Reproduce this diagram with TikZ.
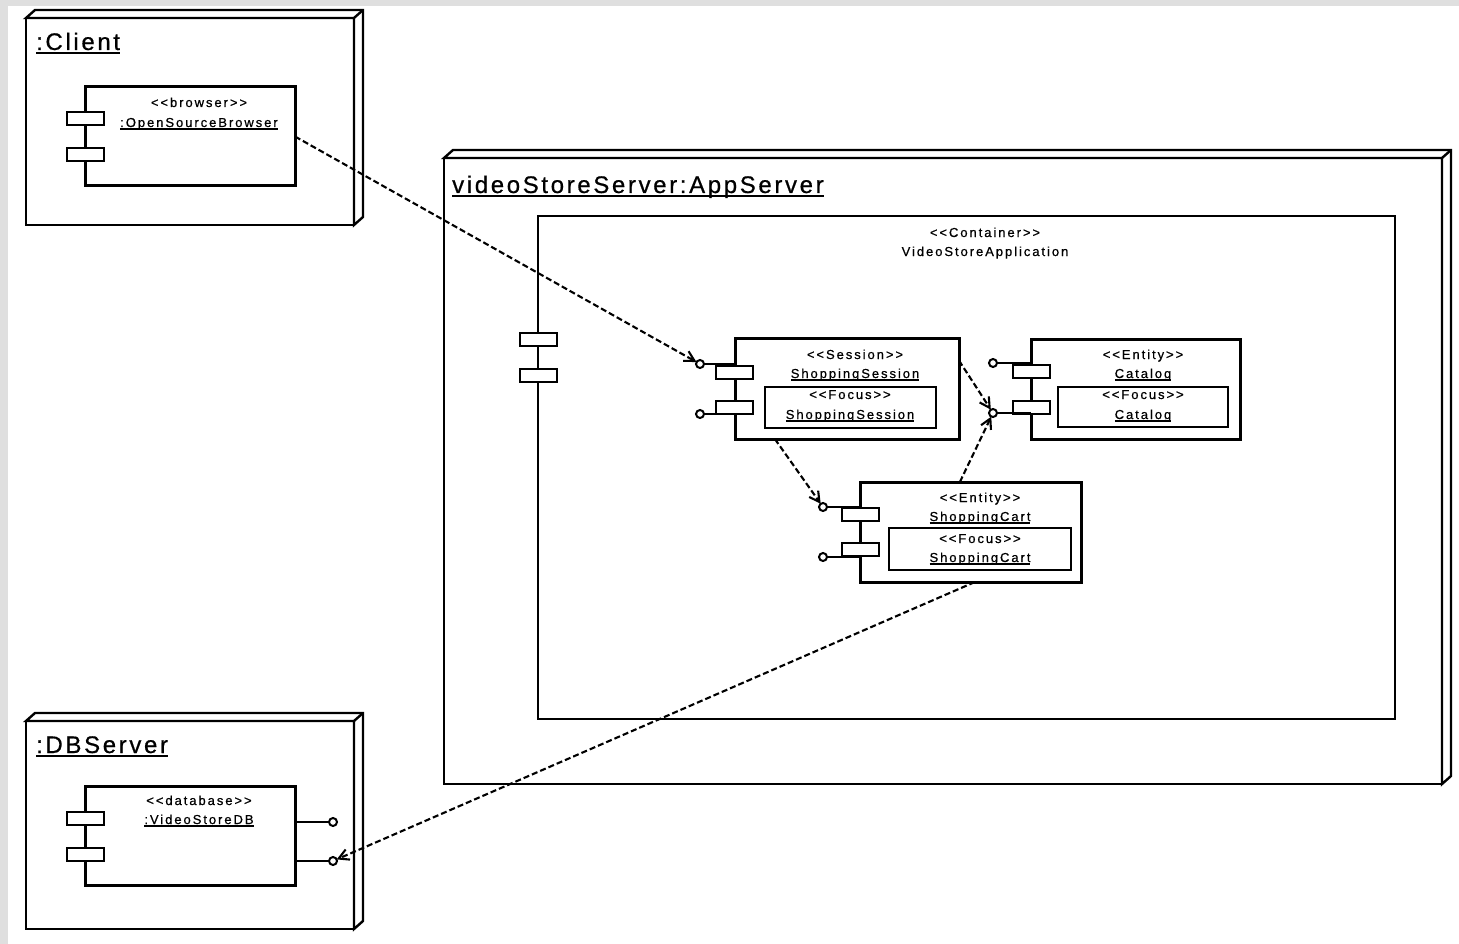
\documentclass[tikz,border=0pt]{standalone}
\usepackage{fontspec}
\usetikzlibrary{arrows.meta,calc}
\newfontfamily\smallfam[LetterSpace=15,Ligatures=TeXOff,FakeBold=0.6]{Liberation Sans}
\newfontfamily\bigfam[LetterSpace=11,Ligatures=TeXOff,FakeBold=0.6]{Liberation Sans}
% underlined names
\newcommand{\ulsmall}[1]{\setbox0=\hbox{#1}\rlap{\rule[-2.9pt]{\wd0}{1.8pt}}\box0}
\newcommand{\ulbig}[1]{\setbox0=\hbox{#1}\rlap{\rule[-4.4pt]{\wd0}{2.8pt}}\box0}
\tikzset{
  frame/.style={draw, line width=2.4pt, fill=white, anchor=north west, inner sep=0pt, outer sep=0pt},
  body/.style={draw, line width=3pt, fill=white, anchor=north west, inner sep=0pt, outer sep=0pt},
  focusbox/.style={draw, line width=1.8pt, anchor=north west, inner sep=0pt, outer sep=0pt},
  port/.style={draw, line width=2pt, fill=white, minimum width=37pt, minimum height=13pt, inner sep=0pt, outer sep=0pt},
  lolli/.style={circle, draw, line width=2pt, fill=white, minimum size=8pt, inner sep=0pt, outer sep=0pt},
  stem/.style={line width=2pt},
  stereo/.style={font=\smallfam\fontsize{13}{15}\selectfont, anchor=base, inner sep=0pt},
  title/.style={font=\bigfam\fontsize{24}{28}\selectfont, anchor=base west, inner sep=0pt},
  dep/.style={line width=2.1pt, dash pattern=on 6pt off 3pt, -{Straight Barb[length=10pt,width=11pt,line width=2.1pt]}},
  depth3d/.style={line width=2.4pt, line join=miter, fill=white}
}
% top and right faces of a 3D deployment node
\newcommand{\depthfaces}[1]{%
  \filldraw[depth3d] (#1.north west) -- ++(9,-8) -- ($(#1.north east)+(9,-8)$) -- ($(#1.south east)+(9,-8)$) -- (#1.south east) -- (#1.north east) -- cycle;
  \draw[depth3d] (#1.north east) -- ++(9,-8);
}
\begin{document}
\begin{tikzpicture}[x=1pt, y=-1pt]
\useasboundingbox (0,0) rectangle (1459,944);
\fill[gray!25] (0,0) rectangle (1459,944);
\fill[white] (8,6) rectangle (1459,944);

% ---------- :Client ----------
\node[frame, minimum width=328pt, minimum height=207pt] (client) at (26,18) {};
\depthfaces{client}
\node[title] (clientlbl) at (36,50) {\ulbig{:Client}};
\node[body, minimum width=210pt, minimum height=99pt] (browser) at (85,87) {};
\node[port] (bp1) at (85,118.5) {};
\node[port] (bp2) at (85,155) {};
\node[stereo] (browserst) at (199,107) {<<browser>>};
\node[stereo] (browsernm) at (199,127) {\ulsmall{:OpenSourceBrowser}};

% ---------- videoStoreServer:AppServer ----------
\node[frame, minimum width=998pt, minimum height=626pt] (app) at (444,158) {};
\depthfaces{app}
\node[title] (applbl) at (452,193) {\ulbig{videoStoreServer:AppServer}};

% container
\node[frame, minimum width=857pt, minimum height=503pt] (cont) at (538,216) {};
\node[port] (cp1) at (538,339.5) {};
\node[port] (cp2) at (538,375) {};
\node[stereo] (contst) at (985,237) {<<Container>>};
\node[stereo] (contnm) at (985,256) {VideoStoreApplication};

% ShoppingSession
\node[body, minimum width=224pt, minimum height=101pt] (session) at (735,338) {};
\node[port] (sp1) at (734.5,372.5) {};
\node[port] (sp2) at (734.5,407.5) {};
\node[lolli] (s1) at (700,364) {};
\node[lolli] (s2) at (700,414) {};
\draw[stem] (s1) -- (s1 -| session.west);
\draw[stem] (s2) -- (s2 -| session.west);
\node[stereo] (sessionst) at (855,359) {<<Session>>};
\node[stereo] (sessionnm) at (855,378) {\ulsmall{ShoppingSession}};
\node[focusbox, minimum width=171pt, minimum height=41pt] (sessionf) at (765,387) {};
\node[stereo] (sessionfst) at (850,399) {<<Focus>>};
\node[stereo] (sessionfnm) at (850,419) {\ulsmall{ShoppingSession}};

% Catalog
\node[body, minimum width=209pt, minimum height=100pt] (catalog) at (1031,339) {};
\node[port] (ctp1) at (1031,371) {};
\node[port] (ctp2) at (1031,407) {};
\node[lolli] (c1) at (993,363) {};
\node[lolli] (c2) at (993,413) {};
\draw[stem] (c1) -- (c1 -| catalog.west);
\draw[stem] (c2) -- (c2 -| catalog.west);
\node[stereo] (catalogst) at (1143,359) {<<Entity>>};
\node[stereo] (catalognm) at (1143,378) {\ulsmall{Catalog}};
\node[focusbox, minimum width=170pt, minimum height=40pt] (catalogf) at (1058,387) {};
\node[stereo] (catalogfst) at (1143,399) {<<Focus>>};
\node[stereo] (catalogfnm) at (1143,419) {\ulsmall{Catalog}};

% ShoppingCart
\node[body, minimum width=221pt, minimum height=100pt] (cart) at (860,482) {};
\node[port] (kp1) at (860,514.5) {};
\node[port] (kp2) at (860,549.5) {};
\node[lolli] (k1) at (823,507) {};
\node[lolli] (k2) at (823,557) {};
\draw[stem] (k1) -- (k1 -| cart.west);
\draw[stem] (k2) -- (k2 -| cart.west);
\node[stereo] (cartst) at (980,502) {<<Entity>>};
\node[stereo] (cartnm) at (980,521) {\ulsmall{ShoppingCart}};
\node[focusbox, minimum width=182pt, minimum height=42pt] (cartf) at (889,528) {};
\node[stereo] (cartfst) at (980,543) {<<Focus>>};
\node[stereo] (cartfnm) at (980,562) {\ulsmall{ShoppingCart}};

% ---------- :DBServer ----------
\node[frame, minimum width=328pt, minimum height=208pt] (dbs) at (26,721) {};
\depthfaces{dbs}
\node[title] (dbslbl) at (36,753) {\ulbig{:DBServer}};
\node[body, minimum width=210pt, minimum height=99pt] (db) at (85,786) {};
\node[port] (dp1) at (85,818.5) {};
\node[port] (dp2) at (85,854) {};
\node[lolli] (d1) at (333,822) {};
\node[lolli] (d2) at (333,861) {};
\draw[stem] (d1) -- (d1 -| db.east);
\draw[stem] (d2) -- (d2 -| db.east);
\node[stereo] (dbst) at (199,805) {<<database>>};
\node[stereo] (dbnm) at (199,824) {\ulsmall{:VideoStoreDB}};

% ---------- dependencies ----------
\draw[dep] (browser.east) -- (s1);
\draw[dep] (session.14) -- (c2);
\draw[dep] (cart.102) -- (c2);
\draw[dep] (session.215) -- (k1);
\draw[dep] (cart.275) -- (d2);
\end{tikzpicture}
\end{document}
